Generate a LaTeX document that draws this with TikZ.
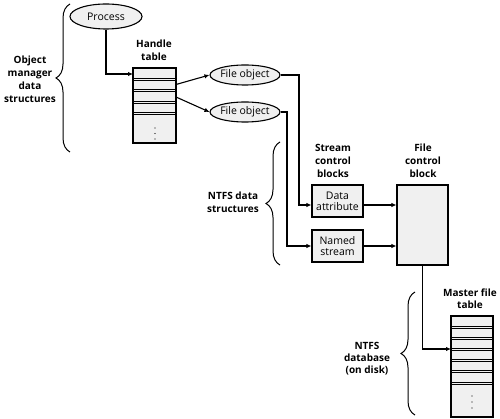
\documentclass[tikz,border=0pt]{standalone}
\usepackage{fontspec}
\setmainfont{Open Sans}
\usetikzlibrary{shapes.geometric,arrows.meta,decorations.pathreplacing}
\begin{document}
\begin{tikzpicture}[x=1pt,y=-1pt,
  line width=1.1pt,
  every node/.style={font=\fontsize{10.5}{13}\selectfont},
  oval/.style={draw, ellipse, fill=gray!12, inner sep=0pt},
  box/.style={draw, rectangle, fill=gray!12, inner sep=0pt, align=center},
  lbl/.style={font=\fontsize{10}{13}\selectfont\bfseries, align=center},
  arr/.style={-{Latex[length=5pt,width=4.5pt]}},
  brc/.style={decorate, decoration={brace, amplitude=14pt}, line width=1pt},
  sep/.style={line width=0.7pt},
  dot/.style={fill=black, draw=none, circle, inner sep=0pt, minimum size=1.2pt}
]
\useasboundingbox (0,0) rectangle (500,419);

% nodes
\node[oval, minimum width=72pt, minimum height=25pt] (proc) at (106,16.5) {Process};
\node[box, minimum width=43pt, minimum height=75pt] (ht) at (154.5,105.5) {};
\node[oval, minimum width=70pt, minimum height=20pt] (fo1) at (245,75) {File object};
\node[oval, minimum width=70pt, minimum height=20pt] (fo2) at (245,112) {File object};
\node[box, minimum width=51pt, minimum height=32pt] (da) at (337.5,201) {Data\\[-2pt]attribute};
\node[box, minimum width=51pt, minimum height=32pt] (ns) at (337.5,246) {Named\\[-2pt]stream};
\node[box, minimum width=51pt, minimum height=80pt] (fcb) at (422.5,225) {};
\node[box, minimum width=42pt, minimum height=101pt] (mft) at (472,366.5) {};

% handle table rows
\foreach \y in {79,90.5,102,113.5} {
  \draw[sep] (ht.west |- 0,\y-0.9) -- (ht.east |- 0,\y-0.9);
  \draw[sep] (ht.west |- 0,\y+0.9) -- (ht.east |- 0,\y+0.9);
}
\node[dot] (htd1) at (155,128) {};
\node[dot] (htd2) at (155,133.5) {};
\node[dot] (htd3) at (155,139) {};

% MFT rows
\foreach \y in {327,338,349,360,371,383} {
  \draw[sep] (mft.west |- 0,\y-0.9) -- (mft.east |- 0,\y-0.9);
  \draw[sep] (mft.west |- 0,\y+0.9) -- (mft.east |- 0,\y+0.9);
}
\node[dot] (md1) at (472,396) {};
\node[dot] (md2) at (472,402) {};
\node[dot] (md3) at (472,408) {};

% labels
\node[lbl] (l1) at (30,79) {Object\\manager\\data\\structures};
\node[lbl] (l2) at (154,50) {Handle\\table};
\node[lbl] (l3) at (333,161) {Stream\\control\\blocks};
\node[lbl] (l4) at (423,161) {File\\control\\block};
\node[lbl] (l5) at (233,202.5) {NTFS data\\structures};
\node[lbl, font=\fontsize{10}{12}\selectfont\bfseries] (l6) at (367,359) {NTFS\\database\\(on disk)};
\node[lbl, font=\fontsize{10}{12}\selectfont\bfseries] (l7) at (470,299) {Master file\\table};

% braces
\coordinate (b1a) at (70,152);
\coordinate (b1b) at (70,4);
\draw[brc] (b1a) -- (b1b);
\coordinate (b2a) at (280,265);
\coordinate (b2b) at (280,142);
\draw[brc] (b2a) -- (b2b);
\coordinate (b3a) at (415,415);
\coordinate (b3b) at (415,292);
\draw[brc] (b3a) -- (b3b);

% connectors
\coordinate (htin) at (133,74);
\draw[arr] (proc.south) |- (htin);
\coordinate (h1) at (176,84.5);
\coordinate (h2) at (176,97);
\draw[arr] (h1) -- (fo1.west);
\draw[arr] (h2) -- (fo2.west);
\coordinate (c1) at (299,205);
\draw[arr] (fo1.east) -| (c1) -- (c1 -| da.west);
\coordinate (c2) at (287,246);
\draw[arr] (fo2.east) -| (c2) -- (ns.west);
\draw[arr] (c1 -| da.east) -- (c1 -| fcb.west);
\draw[arr] (ns.east) -- (ns.east -| fcb.west);
\coordinate (c3) at (451,349);
\draw[arr] (fcb.south) |- (c3);
\end{tikzpicture}
\end{document}
